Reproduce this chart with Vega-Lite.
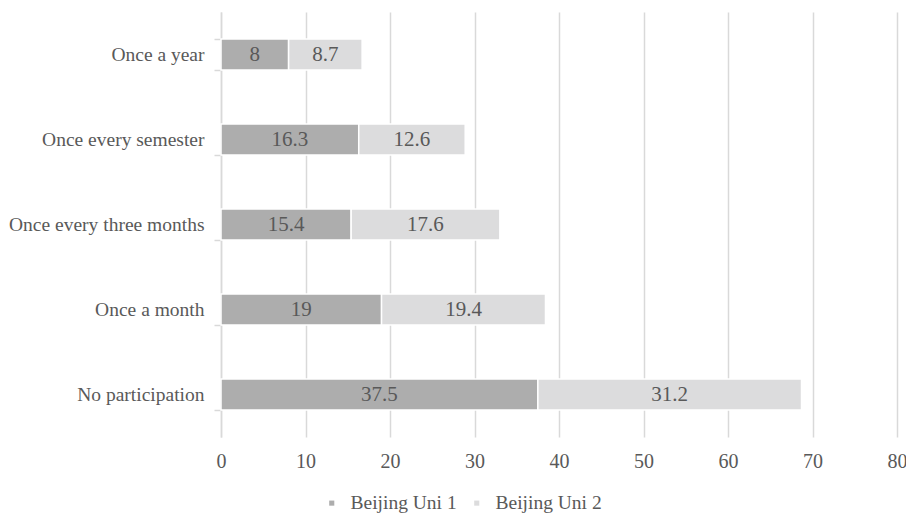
{
  "$schema": "https://vega.github.io/schema/vega-lite/v6.json",
  "width": 676,
  "height": 425,
  "autosize": {"type": "none"},
  "padding": {"left": 221, "top": 12, "right": 9, "bottom": 78},
  "background": "white",
  "config": {
    "view": {"stroke": null},
    "font": "Liberation Serif"
  },
  "data": {
    "values": [
      {"cat": "Once a year", "uni": "Beijing Uni 1", "value": 8},
      {"cat": "Once a year", "uni": "Beijing Uni 2", "value": 8.7},
      {"cat": "Once every semester", "uni": "Beijing Uni 1", "value": 16.3},
      {"cat": "Once every semester", "uni": "Beijing Uni 2", "value": 12.6},
      {"cat": "Once every three months", "uni": "Beijing Uni 1", "value": 15.4},
      {"cat": "Once every three months", "uni": "Beijing Uni 2", "value": 17.6},
      {"cat": "Once a month", "uni": "Beijing Uni 1", "value": 19},
      {"cat": "Once a month", "uni": "Beijing Uni 2", "value": 19.4},
      {"cat": "No participation", "uni": "Beijing Uni 1", "value": 37.5},
      {"cat": "No participation", "uni": "Beijing Uni 2", "value": 31.2}
    ]
  },
  "transform": [
    {"stack": "value", "groupby": ["cat"], "sort": [{"field": "uni", "order": "ascending"}], "as": ["v0", "v1"]},
    {"calculate": "(datum.v0 + datum.v1) / 2", "as": "mid"}
  ],
  "encoding": {
    "y": {
      "field": "cat",
      "type": "nominal",
      "sort": ["Once a year", "Once every semester", "Once every three months", "Once a month", "No participation"],
      "scale": {"paddingInner": 0.635, "paddingOuter": 0.3175},
      "axis": {
        "title": null,
        "tickBand": "extent",
        "domainColor": "#D9D9D9",
        "domainWidth": 1.5,
        "tickColor": "#D9D9D9",
        "tickWidth": 1.5,
        "tickSize": 7,
        "labelPadding": 10,
        "labelLimit": 300,
        "labelFontSize": 19.5,
        "labelColor": "#595959",
        "labelFont": "Liberation Serif"
      }
    }
  },
  "layer": [
    {
      "mark": {"type": "bar", "stroke": "white", "strokeWidth": 1.5},
      "encoding": {
        "x": {
          "field": "v0",
          "type": "quantitative",
          "scale": {"domain": [0, 80], "nice": false},
          "axis": {
            "title": null,
            "values": [0, 10, 20, 30, 40, 50, 60, 70, 80],
            "domain": false,
            "ticks": false,
            "labelFlush": false,
            "gridColor": "#D9D9D9",
            "gridWidth": 1.5,
            "labelPadding": 14,
            "labelFontSize": 20,
            "labelColor": "#595959",
            "labelFont": "Liberation Serif"
          }
        },
        "x2": {"field": "v1"},
        "color": {
          "field": "uni",
          "type": "nominal",
          "scale": {"domain": ["Beijing Uni 1", "Beijing Uni 2"], "range": ["#ADADAD", "#DCDCDD"]},
          "legend": {
            "title": null,
            "orient": "none",
            "legendX": 101,
            "legendY": 481,
            "direction": "horizontal",
            "symbolType": "square",
            "symbolSize": 26,
            "symbolStrokeWidth": 0,
            "labelFontSize": 19.5,
            "labelColor": "#595959",
            "labelFont": "Liberation Serif",
            "columnPadding": 10,
            "labelOffset": 9
          }
        }
      }
    },
    {
      "mark": {"type": "text", "fontSize": 21, "color": "#595959", "font": "Liberation Serif", "align": "center", "baseline": "middle"},
      "encoding": {
        "x": {"field": "mid", "type": "quantitative"},
        "text": {"field": "value", "type": "quantitative"}
      }
    }
  ]
}
